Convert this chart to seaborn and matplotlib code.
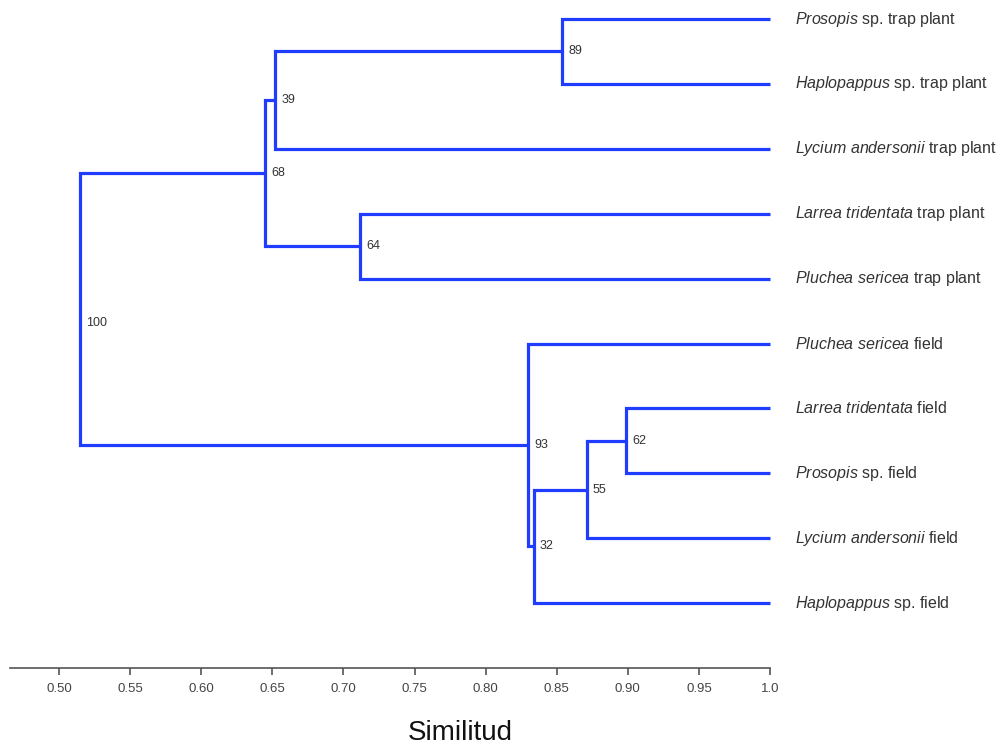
import numpy as np
import pandas as pd
import matplotlib
matplotlib.use("Agg")
import matplotlib.pyplot as plt
import seaborn as sns

# ---- data ----
leaf_genus = ["Prosopis", "Haplopappus", "Lycium andersonii", "Larrea tridentata",
              "Pluchea sericea", "Pluchea sericea", "Larrea tridentata", "Prosopis",
              "Lycium andersonii", "Haplopappus"]
leaf_suffix = ["sp. trap plant", "sp. trap plant", "trap plant", "trap plant",
               "trap plant", "field", "field", "sp. field", "field", "sp. field"]

# merges: children ids (leaves 0-9, internal nodes 10+ in merge order)
merge_left = [0, 10, 3, 11, 6, 14, 15, 5, 13]
merge_right = [1, 2, 4, 12, 7, 8, 9, 16, 17]
merge_sim = [0.854, 0.652, 0.712, 0.645, 0.899, 0.871, 0.834, 0.830, 0.515]
support = [89, 39, 64, 68, 62, 55, 32, 93, 100]

tick_vals = [0.50, 0.55, 0.60, 0.65, 0.70, 0.75, 0.80, 0.85, 0.90, 0.95, 1.0]
tick_labels = ["0.50", "0.55", "0.60", "0.65", "0.70", "0.75", "0.80", "0.85",
               "0.90", "0.95", "1.0"]

# ---- build dendrogram geometry ----
n_leaf = len(leaf_genus)
px, py = {}, {}
for i in range(n_leaf):
    px[i], py[i] = 1.0, float(i)
rows = []
for k, (l, r, s) in enumerate(zip(merge_left, merge_right, merge_sim)):
    nid = n_leaf + k
    px[nid] = s
    py[nid] = (py[l] + py[r]) / 2
    pts = [(px[l], py[l]), (s, py[l]), (s, py[r]), (px[r], py[r])]
    for j, (x, y) in enumerate(pts):
        rows.append({"x": x, "y": y, "seg": k, "order": j})
df = pd.DataFrame(rows)

# ---- style ----
sns.set_style("white")
plt.rcParams["font.family"] = ["Liberation Sans", "DejaVu Sans"]
plt.rcParams["mathtext.fontset"] = "custom"
plt.rcParams["mathtext.rm"] = "Liberation Sans"
plt.rcParams["mathtext.it"] = "Liberation Sans:italic"

fig = plt.figure(figsize=(9.97, 7.47), dpi=100)
ax = fig.add_axes([10 / 997, 1 - 668 / 747, 760 / 997, 668 / 747])

blue = "#1f3cff"
sns.lineplot(data=df, x="x", y="y", units="seg", estimator=None, sort=False,
             color=blue, linewidth=2.3, ax=ax, legend=False)
for ln in ax.lines:
    ln.set_clip_on(False)
    ln.set_solid_joinstyle("miter")
    ln.set_solid_capstyle("butt")

ax.set_xlim(0.4655, 1.0)
ax.set_ylim(10.0, -0.293)

# leaf labels
dx_leaf = 25 / 1422
for i, (g, s) in enumerate(zip(leaf_genus, leaf_suffix)):
    g_m = g.replace(" ", r"\ ")
    ax.text(1.0 + dx_leaf, i, r"$\mathit{" + g_m + "}$ " + s, ha="left", va="center",
            fontsize=11.5, color="#333333", clip_on=False)

# support labels
dx_sup = 6 / 1422
for k, val in enumerate(support):
    nid = n_leaf + k
    dy = 0.22 if k == len(support) - 1 else 0.0
    ax.text(px[nid] + dx_sup, py[nid] + dy, str(val), ha="left", va="center",
            fontsize=9, color="#333333")

# axes styling
for side in ["top", "right", "left"]:
    ax.spines[side].set_visible(False)
ax.spines["bottom"].set_color("#555555")
ax.spines["bottom"].set_linewidth(1.2)
ax.set_yticks([])
ax.set_xticks(tick_vals)
ax.set_xticklabels(tick_labels)
ax.tick_params(axis="x", length=5, width=1.2, color="#555555", labelsize=9.5,
               labelcolor="#444444", pad=6, bottom=True)
ax.set_xlabel("")
ax.set_ylabel("")

fig.text(460 / 997, 1 - 733 / 747, "Similitud", ha="center", va="center",
         fontsize=20, color="#111111")

fig.savefig("out.png", dpi=100)
